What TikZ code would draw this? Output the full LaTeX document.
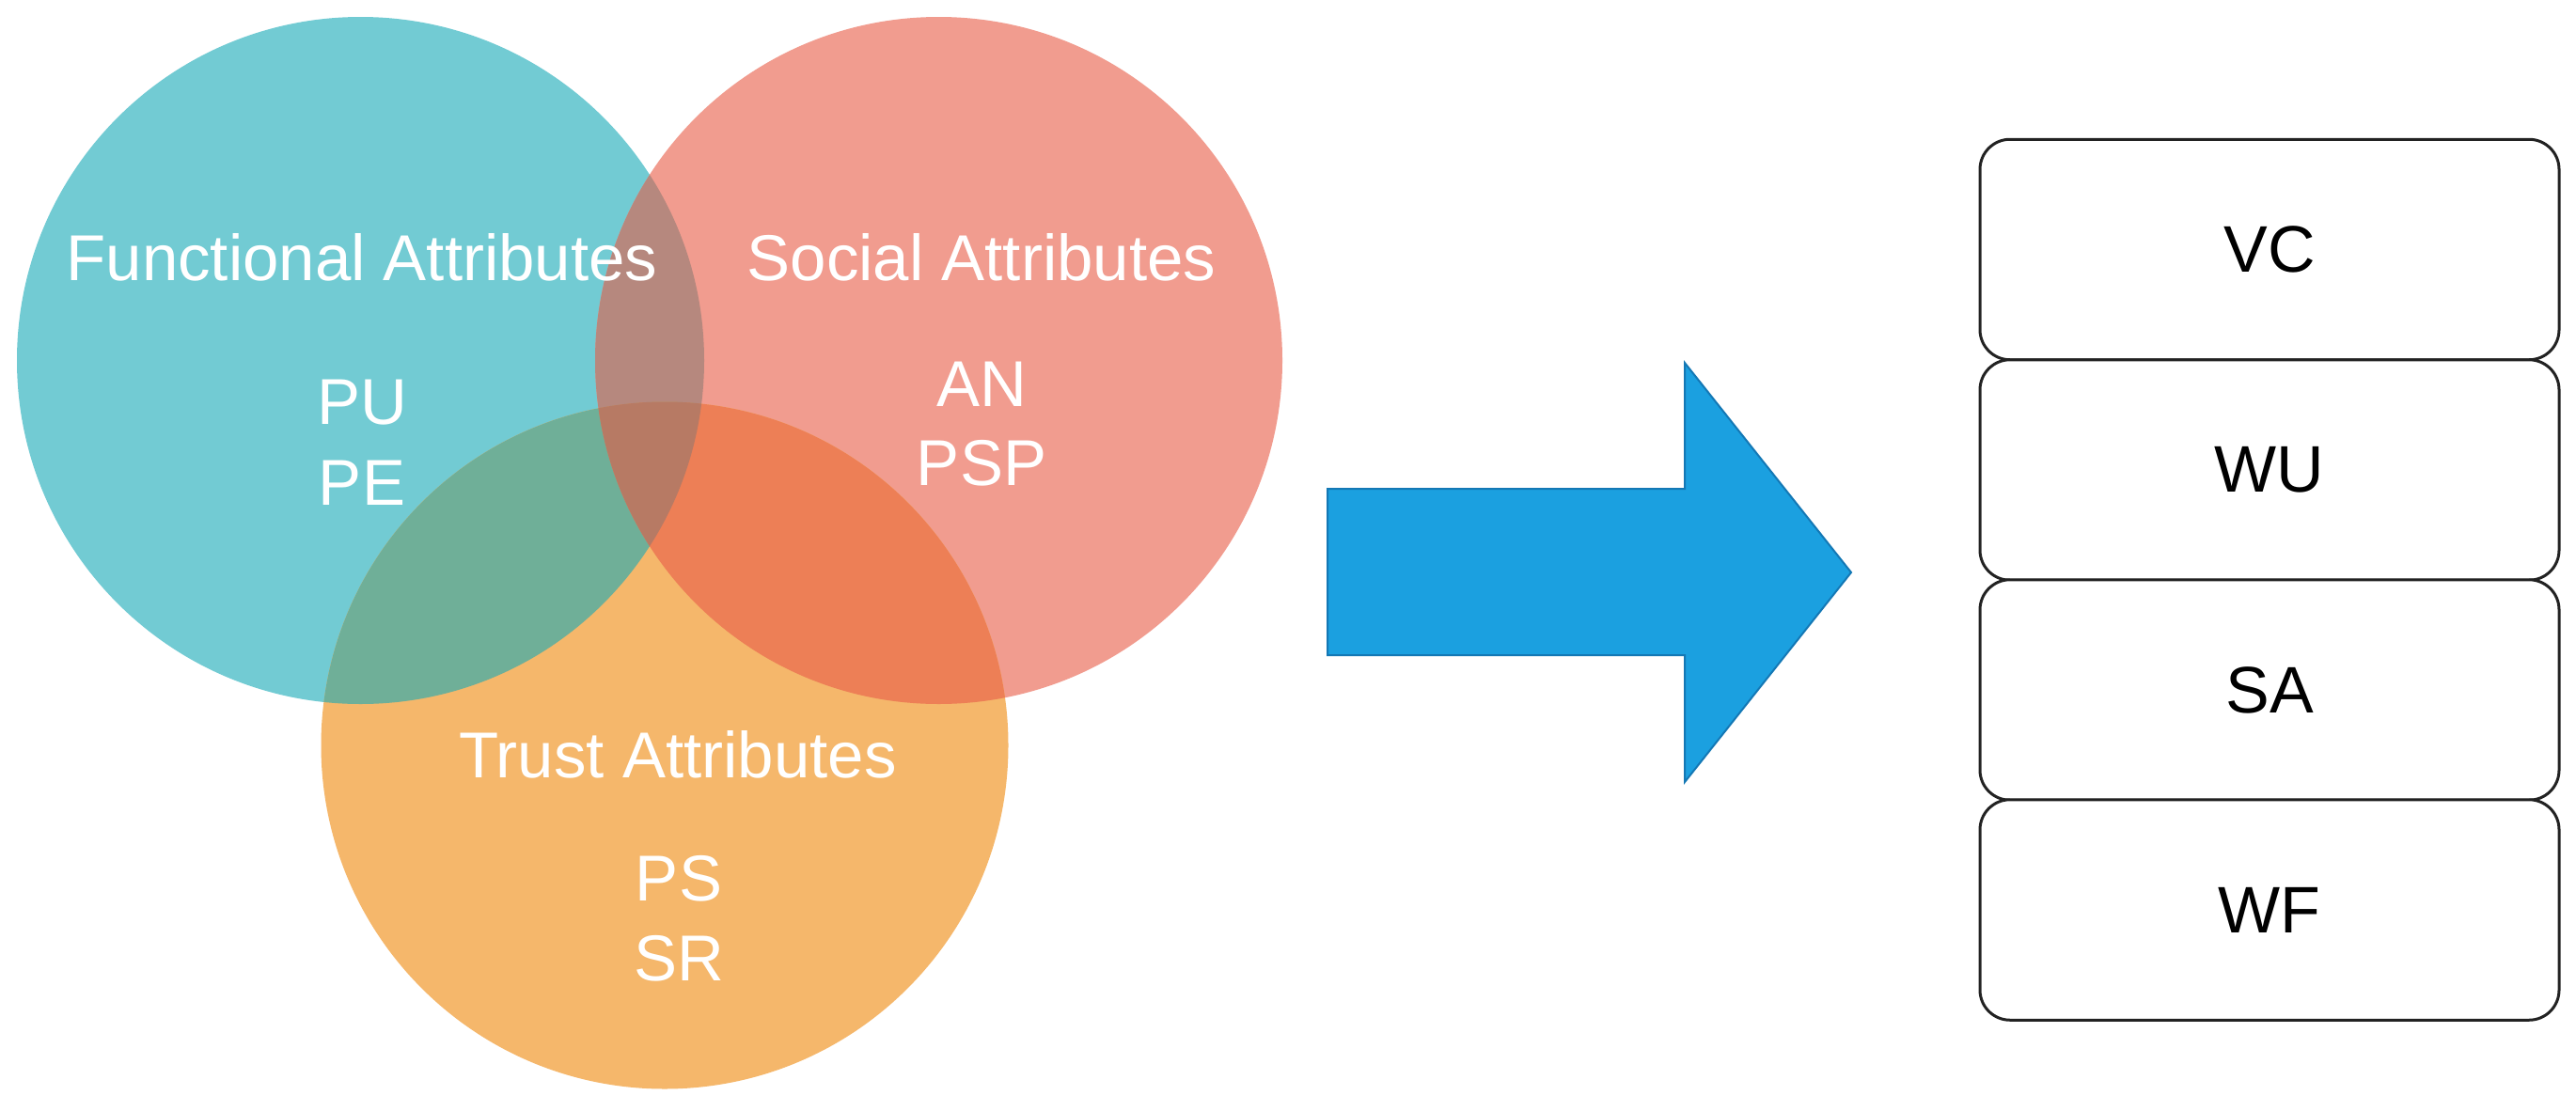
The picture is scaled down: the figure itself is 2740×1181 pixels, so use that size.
\documentclass[tikz,border=0pt]{standalone}
\usepackage{fontspec}
\setmainfont{Liberation Sans}
\definecolor{cteal}{HTML}{72CBD3}
\definecolor{cred}{HTML}{F19C8F}
\definecolor{corange}{HTML}{F5B76B}
\definecolor{cFS}{HTML}{B6887E}
\definecolor{cFT}{HTML}{6FAF98}
\definecolor{cST}{HTML}{ED7F56}
\definecolor{cFST}{HTML}{B77A64}
\definecolor{arrowblue}{HTML}{1BA0E0}
\definecolor{arrowedge}{HTML}{1478B5}
\definecolor{boxline}{HTML}{222222}
\begin{document}
\begin{tikzpicture}[x=1pt,y=-1pt,
  lbl/.style={text=white,font=\fontsize{69}{80}\selectfont,anchor=base,inner sep=0pt},
  boxnode/.style={draw=boxline,line width=3pt,rounded corners=32pt,minimum width=616pt,minimum height=234.5pt,fill=white,text=black,font=\fontsize{70}{80}\selectfont,inner sep=0pt}]
\useasboundingbox (0,0) rectangle (2740,1181);
\fill[white] (0,0) rectangle (2740,1181);
\coordinate (cF) at (383.5,383.5);
\coordinate (cS) at (998.5,383.5);
\coordinate (cT) at (707,793);
% base circles
\fill[cteal] (cF) circle (365.5pt);
\fill[cred] (cS) circle (365.5pt);
\fill[corange] (cT) circle (365.5pt);
% pairwise overlaps
\begin{scope}
  \clip (cF) circle (365.5pt);
  \fill[cFS] (cS) circle (365.5pt);
\end{scope}
\begin{scope}
  \clip (cF) circle (365.5pt);
  \fill[cFT] (cT) circle (365.5pt);
\end{scope}
\begin{scope}
  \clip (cS) circle (365.5pt);
  \fill[cST] (cT) circle (365.5pt);
\end{scope}
\begin{scope}
  \clip (cF) circle (365.5pt);
  \clip (cS) circle (365.5pt);
  \fill[cFST] (cT) circle (365.5pt);
\end{scope}
% labels
\node[lbl] (fa) at (385,298) {Functional Attributes};
\node[lbl] (pu) at (385,451) {PU};
\node[lbl] (pe) at (385,537) {PE};
\node[lbl] (sa) at (1044,298) {Social Attributes};
\node[lbl] (an) at (1044,432) {AN};
\node[lbl] (psp) at (1044,516) {PSP};
\node[lbl] (ta) at (721,827) {Trust Attributes};
\node[lbl] (ps) at (722,958) {PS};
\node[lbl] (sr) at (722,1043) {SR};
% arrow
\filldraw[fill=arrowblue,draw=arrowedge,line width=2pt,line join=miter]
  (1412,520) -- (1792,520) -- (1792,386) -- (1969,609) -- (1792,832) -- (1792,697) -- (1412,697) -- cycle;
% boxes
\node[boxnode] (vc) at (2414,265.5) {VC};
\node[boxnode] (wu) at (2414,500) {WU};
\node[boxnode] (sabox) at (2414,734) {SA};
\node[boxnode] (wf) at (2414,968) {WF};
\end{tikzpicture}
\end{document}
